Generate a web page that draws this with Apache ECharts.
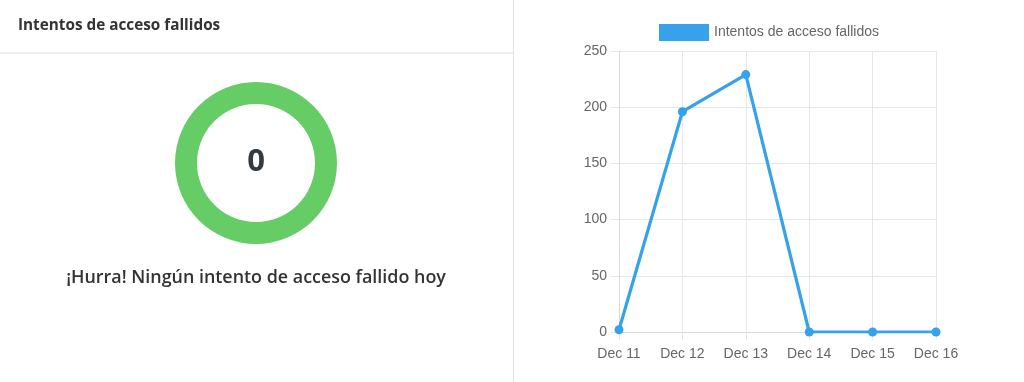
<!DOCTYPE html>
<html><head><meta charset="utf-8">
<script src="https://cdn.jsdelivr.net/npm/echarts@6/dist/echarts.min.js"></script>
<style>html,body{margin:0;padding:0;background:#fff}#c{width:1024px;height:382px}</style>
</head><body><div id="c"></div>
<script>
const categories = ['Dec 11','Dec 12','Dec 13','Dec 14','Dec 15','Dec 16'];
const failedAttempts = [2, 196, 229, 0, 0, 0];
const yTicks = [0, 50, 100, 150, 200, 250];
const todayCount = [0];
const seriesName = 'Intentos de acceso fallidos';
const panelTitle = 'Intentos de acceso fallidos';
const messageText = '¡Hurra! Ningún intento de acceso fallido hoy';

const chart = echarts.init(document.getElementById('c'), null, {renderer:'canvas'});
chart.setOption({
  animation: false,
  graphic: [
    {type:'text', left:18, top:18, style:{text:panelTitle, font:'bold 15.3px "Open Sans", "Noto Sans", sans-serif', fill:'#333'}},
    {type:'rect', shape:{x:0,y:52,width:513,height:2}, style:{fill:'#eeeeee'}},
    {type:'rect', shape:{x:513,y:0,width:1,height:382}, style:{fill:'#e3e3e3'}},
    {type:'text', x:256, y:162, style:{text:String(todayCount[0]), font:'bold 31px "Open Sans", "Noto Sans", sans-serif', fill:'#343a40', align:'center', verticalAlign:'middle'}},
    {type:'text', x:256, y:278, style:{text:messageText, font:'600 17.9px "Open Sans", "Noto Sans", sans-serif', fill:'#333', align:'center', verticalAlign:'middle'}}
  ],
  legend: {
    left: 654, top: 19, itemWidth: 50, itemHeight: 17, icon:'rect',
    textStyle:{color:'#666', fontSize:14, fontFamily:'"Liberation Sans", Arial, sans-serif'},
    data:[seriesName]
  },
  grid: {left:619, right:88, top:51, bottom:50, containLabel:false},
  xAxis: {
    type:'category', data:categories, boundaryGap:false,
    axisLine:{show:true, lineStyle:{color:'#d9d9d9'}},
    axisTick:{show:true, length:8, lineStyle:{color:'#e6e6e6'}},
    splitLine:{show:true, lineStyle:{color:'#e6e6e6'}},
    axisLabel:{color:'#666', fontSize:14, margin:15, fontFamily:'"Liberation Sans", Arial, sans-serif'}
  },
  yAxis: {
    type:'value', min:yTicks[0], max:yTicks[yTicks.length-1], interval:50,
    axisLine:{show:true, lineStyle:{color:'#d9d9d9'}},
    axisTick:{show:true, length:8, lineStyle:{color:'#e6e6e6'}},
    splitLine:{show:true, lineStyle:{color:'#e6e6e6'}},
    axisLabel:{color:'#666', fontSize:14, margin:12, fontFamily:'"Liberation Sans", Arial, sans-serif'}
  },
  series: [
    {
      type:'pie', center:[256,163], radius:[59,81], silent:true,
      label:{show:false}, labelLine:{show:false},
      itemStyle:{color:'#66cc66'},
      data:[{value:1, name:'hoy'}],
      legendHoverLink:false
    },
    {
      name: seriesName, type:'line', data:failedAttempts,
      symbol:'circle', symbolSize:9, showAllSymbol:true,
      lineStyle:{color:'#36a2eb', width:3.2},
      itemStyle:{color:'#36a2eb'}
    }
  ]
});
</script></body></html>
